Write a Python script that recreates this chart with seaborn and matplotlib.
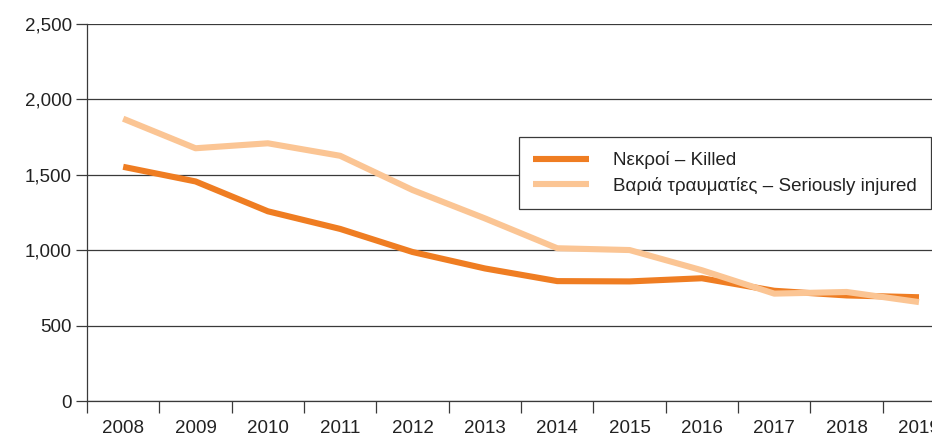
import matplotlib
matplotlib.use("Agg")
import matplotlib.pyplot as plt
import seaborn as sns
import pandas as pd
from matplotlib.ticker import FixedLocator, FuncFormatter

years = [2008, 2009, 2010, 2011, 2012, 2013, 2014, 2015, 2016, 2017, 2018, 2019]
killed = [1553, 1456, 1258, 1141, 988, 879, 795, 793, 814, 731, 700, 688]
injured = [1872, 1676, 1709, 1626, 1399, 1211, 1013, 1001, 867, 712, 723, 656]
series_names = ["Νεκροί – Killed", "Βαριά τραυματίες – Seriously injured"]
series_colors = ["#EF7D22", "#FBC594"]
y_ticks = [0, 500, 1000, 1500, 2000, 2500]

df = pd.DataFrame({
    "year": years * 2,
    "value": killed + injured,
    "series": [series_names[0]] * len(years) + [series_names[1]] * len(years),
})

sns.set_style("white")
plt.rcParams["font.family"] = ["Liberation Sans", "DejaVu Sans"]
FS = 13.5

fig = plt.figure(figsize=(9.32, 4.36), dpi=100)
ax = fig.add_axes([87 / 932, 35 / 436, 1 - 87 / 932, 377 / 436])

sns.lineplot(data=df, x="year", y="value", hue="series", hue_order=series_names,
             palette=series_colors, linewidth=4.4, ax=ax, legend=True,
             solid_capstyle="butt")

ax.set_xlim(2007.5, 2019.18)
ax.set_ylim(0, 2500)

# y axis: gridlines at every 500
ax.set_yticks(y_ticks)
ax.yaxis.set_major_formatter(FuncFormatter(lambda v, p: f"{int(v):,}"))
ax.yaxis.grid(True, color="#3a3a3a", linewidth=0.9)
ax.set_axisbelow(True)
ax.tick_params(axis="y", which="major", left=True, length=8, width=0.9,
               color="#3a3a3a", labelsize=FS, labelcolor="#222222", pad=3)

# x axis: tick marks at category boundaries, labels centred in each category
ax.xaxis.set_major_locator(FixedLocator([2007.5] + [y + 0.5 for y in years[:-1]]))
ax.xaxis.set_major_formatter(FuncFormatter(lambda v, p: ""))
ax.xaxis.set_minor_locator(FixedLocator(years))
ax.xaxis.set_minor_formatter(FuncFormatter(lambda v, p: f"{int(round(v))}"))
ax.tick_params(axis="x", which="major", bottom=True, length=8.5, width=0.9,
               color="#3a3a3a")
ax.tick_params(axis="x", which="minor", bottom=True, length=0, labelsize=FS,
               labelcolor="#222222", pad=14)

ax.set_xlabel("")
ax.set_ylabel("")
for side in ["top", "right"]:
    ax.spines[side].set_visible(False)
for side in ["left", "bottom"]:
    ax.spines[side].set_color("#3a3a3a")
    ax.spines[side].set_linewidth(0.9)

handles, labels = ax.get_legend_handles_labels()
for h in handles:
    h.set_linewidth(4.4)
leg = ax.legend(handles, labels, loc="upper right",
                bbox_to_anchor=(931 / 932, 1 - 137 / 436),
                bbox_transform=fig.transFigure, frameon=True, fancybox=False,
                fontsize=FS, handlelength=3.0, handletextpad=1.3,
                borderpad=0.75, labelspacing=0.4, borderaxespad=0,
                framealpha=1)
leg.get_frame().set_edgecolor("#3a3a3a")
leg.get_frame().set_linewidth(0.9)
for t in leg.get_texts():
    t.set_color("#222222")

fig.savefig("out.png", dpi=100)
